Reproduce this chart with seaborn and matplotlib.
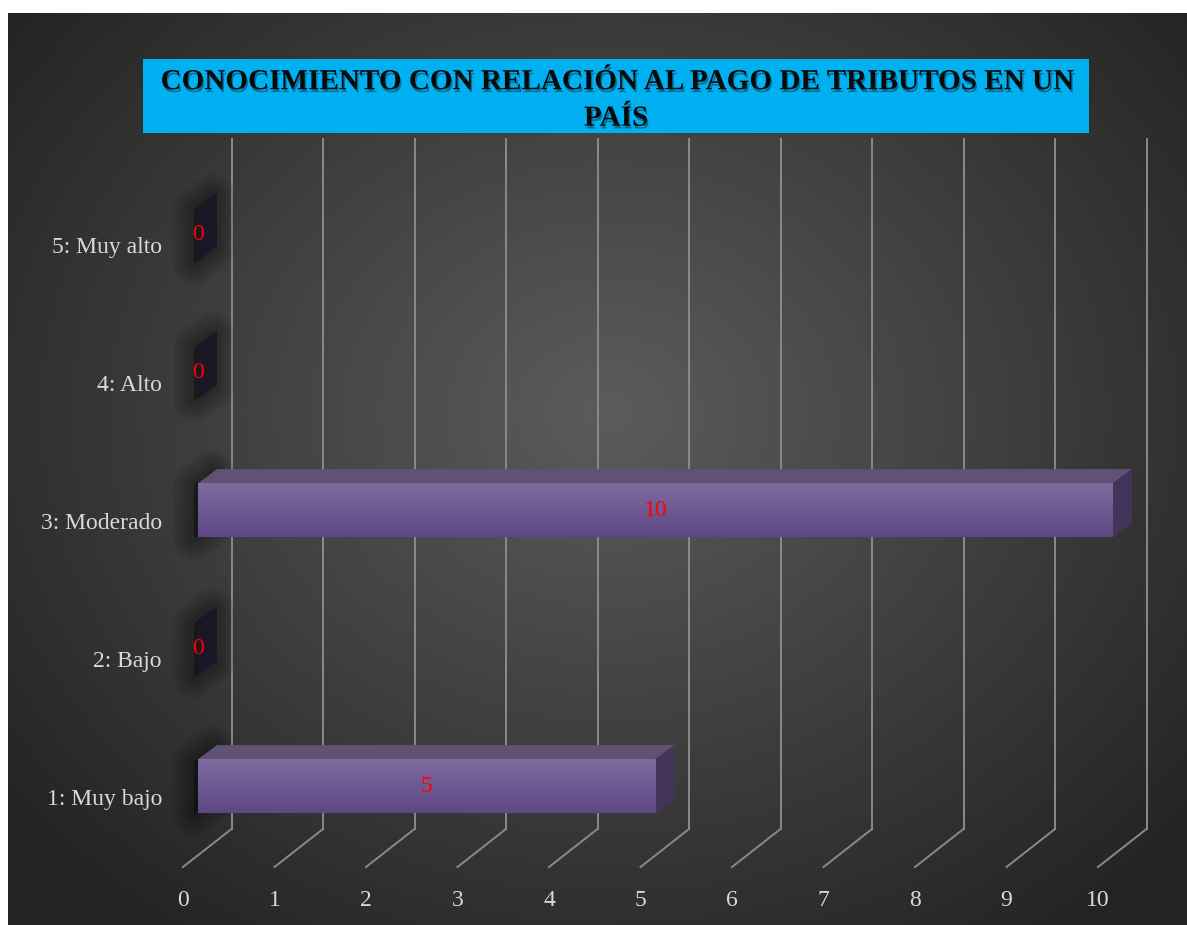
import numpy as np
import matplotlib
matplotlib.use('Agg')
import matplotlib.pyplot as plt
import matplotlib.patheffects as pe
from matplotlib.patches import Polygon, Rectangle
from matplotlib.transforms import ScaledTranslation
import seaborn as sns

# Data
categories = ['5: Muy alto', '4: Alto', '3: Moderado', '2: Bajo', '1: Muy bajo']
values = [0, 0, 10, 0, 5]
x_ticks = list(range(0, 11))
title = 'CONOCIMIENTO CON RELACIÓN AL PAGO DE TRIBUTOS EN UN\nPAÍS'

W, H, DPI = 1187, 925, 100
FONT = ['Liberation Serif', 'DejaVu Serif']
plt.rcParams['font.family'] = FONT

fig = plt.figure(figsize=(W / DPI, H / DPI), dpi=DPI, facecolor='white')

# dark panel with radial gradient
bg = fig.add_axes([8 / W, 0, 1 - 8 / W, 1 - 13 / H])
yy, xx = np.mgrid[0:912, 0:1179]
r = np.sqrt(((xx - 600) / 760.0) ** 2 + ((yy - 400) / 640.0) ** 2)
shade = 0.36 - (0.36 - 0.14) * np.clip(r, 0, 1)
bg.imshow(np.dstack([shade] * 3), aspect='auto', interpolation='bilinear')
bg.axis('off')

# main plot area (bar plane)
ax = fig.add_axes([198 / W, (H - 855) / H, 915 / W, 690 / H])
ax.patch.set_alpha(0)

FRONT_TOP = np.array([126, 107, 158]) / 255
FRONT_BOT = np.array([94, 71, 133]) / 255
TOP_FACE = '#5f5275'
SIDE_FACE = '#43345a'

sns.barplot(x=values, y=categories, order=categories, orient='h', ax=ax,
            color=FRONT_BOT, saturation=1, width=0.39, zorder=5)
ax.set_xlim(0, 10)
ax.set_ylim(4.5, -0.5)

# pixel -> data unit conversion
ux = 915 / 10.0
uy = 690 / 5.0
ddx, ddy = 19 / ux, -14 / uy          # bar depth
bdx, bdy = 33.5 / ux, -26 / uy        # back wall
fdx, fdy = -15 / ux, 12 / uy          # front floor edge

# grid: back wall verticals + floor diagonals
grid_kw = dict(color='#8a8a8a', lw=1.4, clip_on=False, zorder=1)
for v in x_ticks:
    ax.plot([v + bdx, v + bdx], [4.5 + bdy, -0.5 + bdy], **grid_kw)
    ax.plot([v + bdx, v + fdx], [4.5 + bdy, 4.5 + fdy], **grid_kw)

grad = np.linspace(0, 1, 64)[:, None, None]
grad_img = FRONT_TOP * (1 - grad) + FRONT_BOT * grad

bars = ax.containers[0]
for p in bars.patches:
    x0, w, y0, h = p.get_x(), p.get_width(), p.get_y(), p.get_height()
    x1 = x0 + w
    # soft shadow at the left end of the bar
    slab = [(x0, y0 + h), (x0, y0), (x0 + ddx, y0 + ddy), (x0 + ddx, y0 + h + ddy)]
    sh = [(x - 4 / ux, y + 2 / uy) for x, y in slab]
    for lw in [30, 24, 18, 12, 6]:
        ax.add_patch(Polygon(sh, closed=True, fc=(0, 0, 0, 0.07), ec=(0, 0, 0, 0.07),
                             lw=lw, joinstyle='round', clip_on=False, zorder=2))
    # top face
    ax.add_patch(Polygon([(x0, y0), (x1, y0), (x1 + ddx, y0 + ddy), (x0 + ddx, y0 + ddy)],
                         closed=True, fc=TOP_FACE if w > 0 else '#1c1726', ec='none',
                         clip_on=False, zorder=4))
    # side face
    ax.add_patch(Polygon([(x1, y0), (x1, y0 + h), (x1 + ddx, y0 + h + ddy), (x1 + ddx, y0 + ddy)],
                         closed=True, fc=SIDE_FACE if w > 0 else '#1c1726', ec='none',
                         clip_on=False, zorder=4))
    # front face gradient
    if w > 0:
        ax.imshow(grad_img, extent=[x0, x1, y0 + h, y0], aspect='auto',
                  interpolation='bilinear', zorder=6)

ax.set_xlim(0, 10)
ax.set_ylim(4.5, -0.5)

labels = ax.bar_label(bars, label_type='center', color='red', fontsize=17, zorder=10)
for t in labels:
    t.set_transform(t.get_transform() + ScaledTranslation(0, -4 / DPI, fig.dpi_scale_trans))

for s in ax.spines.values():
    s.set_visible(False)
ax.set_xlabel('')
ax.set_ylabel('')
ax.set_xticks(x_ticks)
ax.set_xticklabels([str(t) for t in x_ticks])
ax.tick_params(axis='x', length=0, pad=25, labelsize=17, labelcolor='#d9d9d9')
ax.tick_params(axis='y', length=0, pad=26, labelsize=17, labelcolor='#d9d9d9')
for lab in ax.get_xticklabels():
    lab.set_transform(lab.get_transform() + ScaledTranslation(-15 / DPI, 0, fig.dpi_scale_trans))
for lab in ax.get_yticklabels():
    lab.set_transform(lab.get_transform() + ScaledTranslation(0, -11 / DPI, fig.dpi_scale_trans))

# title box
fig.patches.append(Rectangle((143 / W, (H - 133) / H), 946 / W, 74 / H,
                             transform=fig.transFigure, fc='#00b0f0', ec='none', zorder=3))
fig.text(616 / W, (H - 100) / H, title, ha='center', va='center', fontsize=21,
         fontweight='bold', color='#0a0a0a', linespacing=1.45, zorder=4,
         path_effects=[pe.SimplePatchShadow(offset=(1.0, -2.0), shadow_rgbFace='black', alpha=0.35),
                       pe.Normal()])

fig.savefig('out.png', dpi=DPI, facecolor='white')
